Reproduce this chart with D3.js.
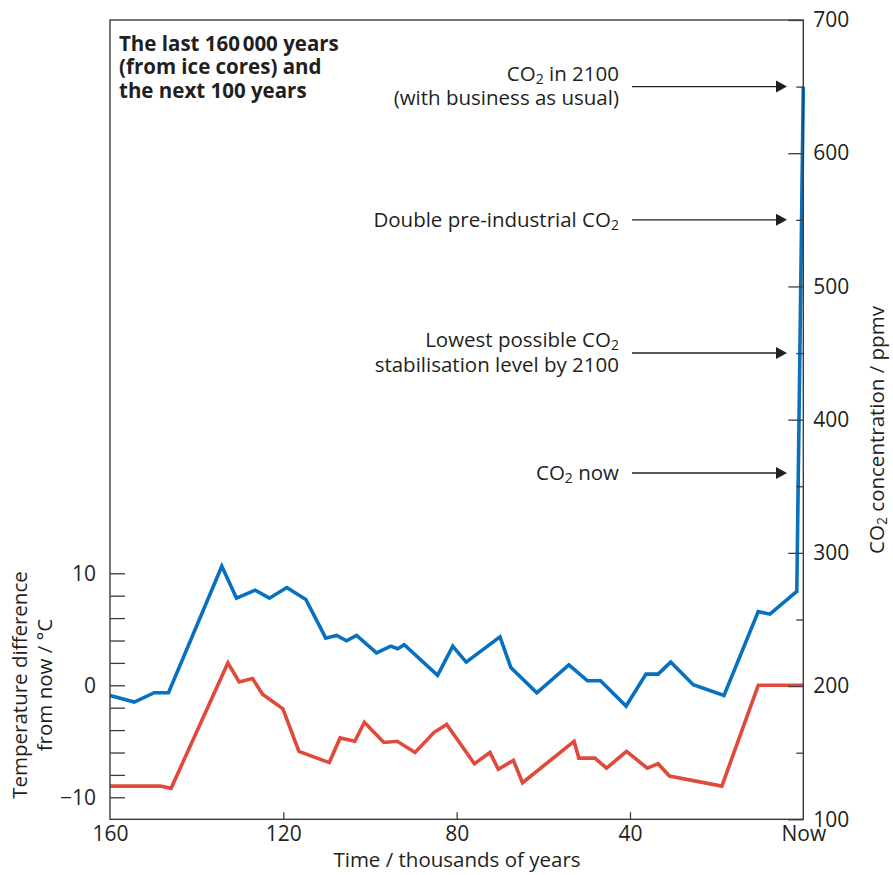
<!DOCTYPE html>
<html>
<head>
<meta charset="utf-8">
<script src="https://cdn.jsdelivr.net/npm/d3@7"></script>
<style>
  body { margin: 0; background: #fff; }
  text { font-family: "Open Sans", "Noto Sans", sans-serif; fill: #231f20; }
  .axis path.domain { display: none; }
  .axis line { stroke: #3c3c3c; stroke-width: 1.3; }
  .axis text { font-size: 21px; fill: #231f20; font-family: "Open Sans", "Noto Sans", sans-serif; }
</style>
</head>
<body>
<script>
'use strict';

var myChart = {};

myChart.width = 893;
myChart.height = 875;

// CO2 (ppmv) against age in thousands of years before now
var co2Ages   = [160, 154.4, 149.8, 146.5, 134.2, 130.8, 126.5, 123.2, 119.2, 114.8, 110.2, 107.7, 105.4, 103.1, 98.5, 95.2, 93.6, 92.1, 84.4, 80.9, 77.8, 70.0, 67.5, 61.5, 54.1, 49.8, 46.8, 40.9, 36.3, 33.5, 30.6, 25.4, 18.3, 10.4, 7.7, 1.5, 0];
var co2Values = [193, 188, 195, 195, 290, 266, 272, 266, 274, 265, 236, 238, 234, 238, 225, 230, 228, 231, 208, 230, 218, 237, 214, 195, 216, 204, 204, 185, 209, 209, 218, 201, 193, 256, 254, 271, 650];

// temperature difference from now (°C)
var tempAges   = [160, 148.4, 145.9, 132.8, 130.2, 127.1, 124.8, 120.1, 116.4, 109.4, 106.9, 103.5, 101.3, 96.8, 93.7, 89.6, 85.2, 82.3, 75.9, 72.3, 70.4, 66.9, 64.8, 52.9, 51.8, 48.1, 45.4, 40.8, 36.0, 33.5, 30.9, 18.8, 10.4, 0];
var tempValues = [-9.0, -9.0, -9.2, 2.0, 0.3, 0.6, -0.8, -2.1, -5.9, -6.9, -4.7, -5.0, -3.3, -5.1, -5.0, -6.0, -4.2, -3.5, -7.0, -6.0, -7.5, -6.7, -8.7, -5.0, -6.5, -6.5, -7.4, -5.9, -7.4, -7.0, -8.1, -9.0, 0, 0];

var timeTicks = [160, 120, 80, 40, 0];
var tempTicks = [-10, 0, 10];
var co2Ticks  = [100, 200, 300, 400, 500, 600, 700];

var titleLines = ["The last 160\u202F000 years", "(from ice cores) and", "the next 100 years"];

var noteValues = [650, 550, 450, 360];
var noteLines  = [
    [["CO", "2", " in 2100"], ["(with business as usual)"]],
    [["Double pre-industrial CO", "2", ""]],
    [["Lowest possible CO", "2", ""], ["stabilisation level by 2100"]],
    [["CO", "2", " now"]]
];

myChart.plot = { left: 110, right: 803.3, top: 20, bottom: 819.3 };

myChart.appendSVG = function(div, width, height){
    var svg = d3.select(div).append("svg")
                .attr("width", width)
                .attr("height", height);
    return svg;
}

myChart.createScales = function(){
    var p = myChart.plot;
    myChart.x = d3.scaleLinear().domain([160, 0]).range([p.left, p.right]);
    myChart.yTemp = d3.scaleLinear().domain([-10, 10]).range([797.3, 573.3]);
    myChart.yCO2 = d3.scaleLinear().domain([100, 700]).range([p.bottom, p.top]);
}

myChart.createFrame = function(svg){
    var p = myChart.plot;
    svg.append("rect")
        .attr("x", p.left)
        .attr("y", p.top)
        .attr("width", p.right - p.left)
        .attr("height", p.bottom - p.top)
        .attr("fill", "none")
        .attr("stroke", "#3c3c3c")
        .attr("stroke-width", 1.4);
}

myChart.createAxes = function(svg){
    var p = myChart.plot;

    // left temperature axis: ticks inside, labels outside
    svg.append("g").attr("class", "axis")
        .attr("transform", "translate(" + p.left + ",0)")
        .call(d3.axisRight(myChart.yTemp).tickValues(d3.range(-10, 11, 2)).tickSize(15).tickFormat(""));
    svg.append("g").attr("class", "axis")
        .attr("transform", "translate(" + p.left + ",0)")
        .call(d3.axisLeft(myChart.yTemp).tickValues(tempTicks).tickSize(0).tickPadding(14));

    // right CO2 axis
    var co2Axis = svg.append("g").attr("class", "axis")
        .attr("transform", "translate(" + p.right + ",0)")
        .call(d3.axisLeft(myChart.yCO2).tickValues(d3.range(100, 701, 50)).tickSize(15).tickFormat(""));
    co2Axis.selectAll(".tick line")
        .attr("x2", function(d){ return d % 100 === 0 ? -15 : -7; });
    svg.append("g").attr("class", "axis")
        .attr("transform", "translate(" + p.right + ",0)")
        .call(d3.axisRight(myChart.yCO2).tickValues(co2Ticks).tickSize(0).tickPadding(10));

    // bottom time axis
    svg.append("g").attr("class", "axis")
        .attr("transform", "translate(0," + p.bottom + ")")
        .call(d3.axisTop(myChart.x).tickValues([120, 80, 40]).tickSize(7).tickFormat(""));
    svg.append("g").attr("class", "axis")
        .attr("transform", "translate(0," + p.bottom + ")")
        .call(d3.axisBottom(myChart.x).tickValues(timeTicks).tickSize(0).tickPadding(7)
              .tickFormat(function(d){ return d === 0 ? "Now" : d; }));
}

myChart.createAxisTitles = function(svg){
    svg.append("text")
        .attr("x", 457)
        .attr("y", 867)
        .attr("text-anchor", "middle")
        .style("font-size", "20.5px")
        .text("Time / thousands of years");

    var left = svg.append("text")
        .attr("transform", "translate(0,685) rotate(-90)")
        .attr("text-anchor", "middle")
        .style("font-size", "20.5px");
    left.append("tspan").attr("x", 0).attr("y", 27).text("Temperature difference");
    left.append("tspan").attr("x", 0).attr("y", 52).text("from now / \u00B0C");

    var right = svg.append("text")
        .attr("transform", "translate(884,430) rotate(-90)")
        .attr("text-anchor", "middle")
        .style("font-size", "20.5px");
    right.append("tspan").text("CO");
    right.append("tspan").attr("dy", 3).style("font-size", "14px").text("2");
    right.append("tspan").attr("dy", -3).text(" concentration / ppmv");
}

myChart.createLines = function(svg){
    var x = myChart.x;

    var co2Line = d3.line()
        .x(function(d, i){ return x(co2Ages[i]); })
        .y(function(d){ return myChart.yCO2(d); });
    var tempLine = d3.line()
        .x(function(d, i){ return x(tempAges[i]); })
        .y(function(d){ return myChart.yTemp(d); });

    svg.append("path")
        .datum(tempValues)
        .attr("d", tempLine)
        .attr("fill", "none")
        .attr("stroke", "#df4a3b")
        .attr("stroke-width", 3.6)
        .attr("stroke-linejoin", "miter");

    svg.append("path")
        .datum(co2Values)
        .attr("d", co2Line)
        .attr("fill", "none")
        .attr("stroke", "#0871bf")
        .attr("stroke-width", 3.6)
        .attr("stroke-linejoin", "miter");
}

myChart.createNotes = function(svg){
    var notes = svg.selectAll(".note")
        .data(noteValues)
        .enter()
            .append("g")
            .classed("note", true)
            .attr("transform", function(d){
                return "translate(0," + myChart.yCO2(d) + ")";
            });

    notes.append("line")
        .attr("x1", 632)
        .attr("x2", 779)
        .attr("stroke", "#231f20")
        .attr("stroke-width", 1.4);

    notes.append("path")
        .attr("d", "M776,-6L787,0L776,6Z")
        .attr("fill", "#231f20");

    notes.each(function(d, i){
        var lines = noteLines[i];
        var g = d3.select(this);
        var y0 = lines.length === 1 ? 7 : -6;
        lines.forEach(function(parts, j){
            var t = g.append("text")
                .attr("x", 619)
                .attr("y", y0 + j * 24.5)
                .attr("text-anchor", "end")
                .style("font-size", "20.5px");
            t.append("tspan").text(parts[0]);
            if (parts.length > 1) {
                t.append("tspan").attr("dy", 3).style("font-size", "14px").text(parts[1]);
                t.append("tspan").attr("dy", -3).text(parts[2]);
            }
        });
    });
}

myChart.createTitle = function(svg){
    svg.selectAll(".title-line")
        .data(titleLines)
        .enter()
            .append("text")
            .classed("title-line", true)
            .attr("x", 119)
            .attr("y", function(d, i){ return 50.5 + i * 23.5; })
            .style("font-size", "20.5px")
            .style("font-weight", "bold")
            .text(function(d){ return d; });
}

myChart.run = function(){
    var svg = myChart.appendSVG("body", myChart.width, myChart.height);
    myChart.createScales();
    myChart.createLines(svg);
    myChart.createFrame(svg);
    myChart.createAxes(svg);
    myChart.createAxisTitles(svg);
    myChart.createNotes(svg);
    myChart.createTitle(svg);
}

window.onload = myChart.run;
</script>
</body>
</html>
